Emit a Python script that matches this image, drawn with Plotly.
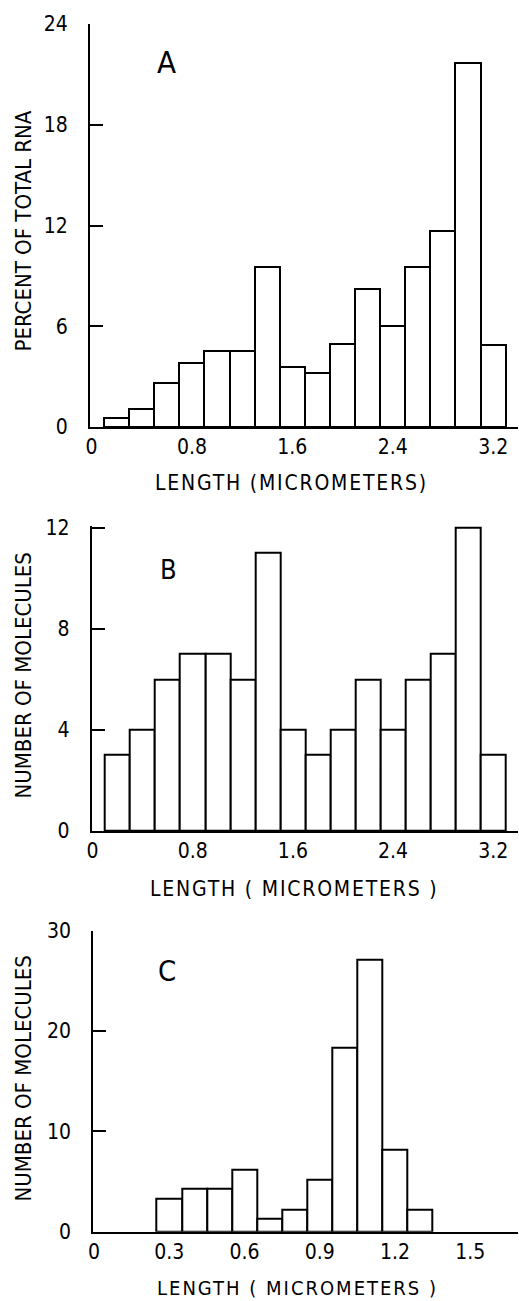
import plotly.graph_objects as go

# ---------------- data ----------------
a_len = [0.2, 0.4, 0.6, 0.8, 1.0, 1.2, 1.4, 1.6, 1.8, 2.0, 2.2, 2.4, 2.6, 2.8, 3.0, 3.2]
a_pct = [0.55, 1.05, 2.6, 3.8, 4.55, 4.55, 9.5, 3.6, 3.2, 4.95, 8.2, 6.0, 9.5, 11.7, 21.7, 4.9]

b_len = [0.2, 0.4, 0.6, 0.8, 1.0, 1.2, 1.4, 1.6, 1.8, 2.0, 2.2, 2.4, 2.6, 2.8, 3.0, 3.2]
b_num = [3, 4, 6, 7, 7, 6, 11, 4, 3, 4, 6, 4, 6, 7, 12, 3]

c_len = [0.3, 0.4, 0.5, 0.6, 0.7, 0.8, 0.9, 1.0, 1.1, 1.2, 1.3]
c_num = [3.3, 4.3, 4.3, 6.2, 1.3, 2.2, 5.2, 18.3, 27.1, 8.2, 2.2]

ab_xticks = [0, 0.8, 1.6, 2.4, 3.2]
ab_xtext = ["0", "0.8", "1.6", "2.4", "3.2"]
c_xticks = [0, 0.3, 0.6, 0.9, 1.2, 1.5]
c_xtext = ["0", "0.3", "0.6", "0.9", "1.2", "1.5"]
a_yticks = [0, 6, 12, 18, 24]
b_yticks = [0, 4, 8, 12]
c_yticks = [0, 10, 20, 30]

W, H = 519, 1301
FONT = "DejaVu Sans Condensed, Liberation Sans Narrow, Arial Narrow, sans-serif"


def px(x):
    return x / W


def py(y):
    return 1 - y / H


fig = go.Figure()
bar_style = dict(marker=dict(color="white", line=dict(color="black", width=2)), showlegend=False,
                 hoverinfo="x+y")
fig.add_trace(go.Bar(x=a_len, y=a_pct, width=0.2, xaxis="x", yaxis="y", **bar_style))
fig.add_trace(go.Bar(x=b_len, y=b_num, width=0.2, xaxis="x2", yaxis="y2", **bar_style))
fig.add_trace(go.Bar(x=c_len, y=c_num, width=0.1, xaxis="x3", yaxis="y3", **bar_style))

common_x = dict(showline=True, linecolor="black", linewidth=2, showgrid=False, zeroline=False,
                automargin=False, ticks="",
                tickfont=dict(family=FONT, size=21, color="black"), ticklabelstandoff=0)
common_y = dict(showline=True, linecolor="black", linewidth=2, showgrid=False, zeroline=False,
                automargin=False, ticks="inside", ticklen=13, tickwidth=2, tickcolor="black",
                tickfont=dict(family=FONT, size=21, color="black"), ticklabelstandoff=16)

fig.update_layout(
    width=W, height=H, margin=dict(l=0, r=0, t=0, b=0, autoexpand=False),
    paper_bgcolor="white", plot_bgcolor="white", bargap=0,
    xaxis=dict(domain=[px(90), px(518)], range=[-0.012, 3.398], anchor="y",
               tickvals=ab_xticks, ticktext=ab_xtext, **common_x),
    yaxis=dict(domain=[py(427), py(24)], range=[0, 24], anchor="x",
               tickvals=a_yticks, **common_y),
    xaxis2=dict(domain=[px(91.7), px(518)], range=[-0.006, 3.397], anchor="y2",
                tickvals=ab_xticks, ticktext=ab_xtext, **common_x),
    yaxis2=dict(domain=[py(831), py(525.7)], range=[0, 12.08], anchor="x2",
                tickvals=b_yticks, **common_y),
    xaxis3=dict(domain=[px(93.3), px(518)], range=[-0.003, 1.69], anchor="y3",
                tickvals=c_xticks, ticktext=c_xtext, **common_x),
    yaxis3=dict(domain=[py(1231.7), py(930.7)], range=[0, 30], anchor="x3",
                tickvals=c_yticks, **common_y),
)


def ann(text, x, y, size, angle=0, spacing=0):
    t = text
    if spacing:
        t = '<span style="letter-spacing:%gpx">%s</span>' % (spacing, text)
    fig.add_annotation(text=t, x=px(x), y=py(y), xref="paper", yref="paper",
                       xanchor="center", yanchor="middle", showarrow=False, textangle=angle,
                       borderpad=0, font=dict(family=FONT, size=size, color="black"))


# panel letters
ann("A", 166, 62, 31)
ann("B", 168, 570, 27)
ann("C", 167, 971, 29)

# y-axis titles
ann("PERCENT OF TOTAL RNA", 22.5, 231, 22, angle=-90)
ann("NUMBER OF MOLECULES", 22.5, 676, 22, angle=-90)
ann("NUMBER OF MOLECULES", 22.5, 1079, 22, angle=-90)

# x-axis titles
ann("LENGTH (MICROMETERS)", 291, 483, 21, spacing=1.8)
ann("LENGTH ( MICROMETERS )", 293.5, 889, 21, spacing=1.8)
ann("LENGTH ( MICROMETERS )", 297, 1288, 20, spacing=2)

fig.write_html(
    "out.html",
    config={"displayModeBar": False},
    post_script="document.body.style.margin='0px';document.body.style.overflow='hidden';",
)
